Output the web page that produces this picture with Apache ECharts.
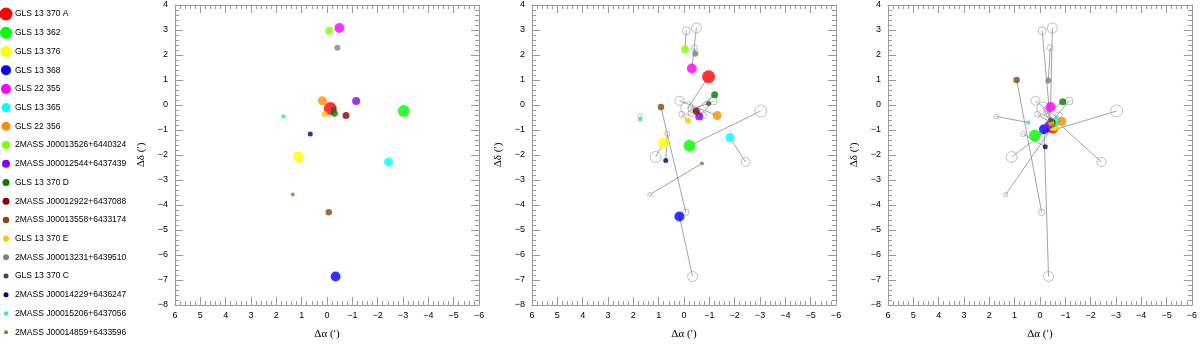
<!DOCTYPE html>
<html>
<head>
<meta charset="utf-8">
<title>Offsets</title>
<script src="https://cdn.jsdelivr.net/npm/echarts@6/dist/echarts.min.js"></script>
<style>
  html, body { margin: 0; padding: 0; background: #fff; }
  #chart { width: 1200px; height: 345px; }
</style>
</head>
<body>
<div id="chart"></div>
<script>
// source names, in legend order
var names = [
    'GLS 13 370 A', 'GLS 13 362', 'GLS 13 376', 'GLS 13 368', 'GLS 22 355',
    'GLS 13 365', 'GLS 22 356', '2MASS J00013526+6440324', '2MASS J00012544+6437439',
    'GLS 13 370 D', '2MASS J00012922+6437088', '2MASS J00013558+6433174', 'GLS 13 370 E',
    '2MASS J00013231+6439510', 'GLS 13 370 C', '2MASS J00014229+6436247',
    '2MASS J00015206+6437056', '2MASS J00014859+6433596'
];

// offsets (arcmin) - panel 1 (original positions)
var dA1 = [-0.13, -3.03, 1.12, -0.34, -0.49, -2.43, 0.18, -0.09, -1.15, -0.29, -0.75, -0.07, 0.09, -0.41, -0.26, 0.66, 1.72, 1.35];
var dD1 = [-0.14, -0.24, -2.08, -6.86, 3.08, -2.28, 0.17, 2.97, 0.16, -0.33, -0.42, -4.29, -0.37, 2.29, -0.17, -1.16, -0.46, -3.58];

// panel 2
var dA2 = [-0.97, -0.22, 0.80, 0.18, -0.31, -1.81, -1.31, -0.04, -0.60, -1.21, -0.49, 0.91, -0.16, -0.45, -0.97, 0.72, 1.73, -0.71];
var dD2 = [1.13, -1.63, -1.51, -4.46, 1.46, -1.30, -0.42, 2.22, -0.46, 0.41, -0.25, -0.08, -0.63, 2.05, 0.06, -2.22, -0.58, -2.34];

// panel 3
var dA3 = [-0.50, 0.20, -0.55, -0.16, -0.42, -0.65, -0.87, -0.42, -0.35, -0.90, -0.48, 0.92, -0.45, -0.33, -0.42, -0.21, 0.46, -0.54];
var dD3 = [-0.88, -1.22, -0.82, -0.97, -0.08, -0.65, -0.65, -0.78, -0.80, 0.13, -0.70, 1.00, -0.72, 0.98, -0.59, -1.67, -0.70, -0.82];

// styles
var colors = ['#ff0000', '#00ff00', '#ffff00', '#0000ff', '#ff00ff', '#00ffff', '#ff8c00', '#7fff00', '#7f00ff',
    '#007f00', '#8b0000', '#8b4513', '#ffc400', '#808080', '#2f4f4f', '#000080', '#40e0d0', '#6b8e23'];
var symbolSizes = [13, 12, 11, 10, 10, 9, 9, 8, 8, 7, 7, 6.5, 6, 6, 5, 5, 4.5, 4];

var chart = echarts.init(document.getElementById('chart'));

var gridLeft = [175, 532, 888];
var axisGray = '#9a9a9a';
var fmt = function (v) { return v < 0 ? '\u2212' + (-v) : String(v); };

var grids = [], xAxes = [], yAxes = [], series = [];

function tickCfg() {
    return {
        axisLine: { show: true, onZero: false, lineStyle: { color: axisGray, width: 1 } },
        axisTick: { show: true, inside: true, length: 8, lineStyle: { color: axisGray, width: 1 } },
        minorTick: { show: true, splitNumber: 5, length: 4, lineStyle: { color: axisGray, width: 1 } },
        splitLine: { show: false },
        minorSplitLine: { show: false }
    };
}

for (var g = 0; g < 3; g++) {
    grids.push({ left: gridLeft[g], top: 5, width: 304, height: 305 });

    // bottom + top x axes
    xAxes.push(Object.assign({
        type: 'value', gridIndex: g, position: 'bottom', inverse: true,
        min: -6, max: 6, interval: 1,
        name: 'Δα (′)', nameLocation: 'middle', nameGap: 24,
        nameTextStyle: { fontFamily: 'Liberation Serif', fontSize: 11, color: '#000' },
        axisLabel: { formatter: fmt, fontFamily: 'Liberation Sans', fontSize: 9, color: '#000', margin: 6 }
    }, tickCfg()));
    xAxes.push(Object.assign({
        type: 'value', gridIndex: g, position: 'top', inverse: true,
        min: -6, max: 6, interval: 1,
        axisLabel: { show: false }
    }, tickCfg()));

    // left + right y axes
    yAxes.push(Object.assign({
        type: 'value', gridIndex: g, position: 'left',
        min: -8, max: 4, interval: 1,
        name: 'Δδ (′)', nameLocation: 'middle', nameGap: 28, nameRotate: 90,
        nameTextStyle: { fontFamily: 'Liberation Serif', fontSize: 11, color: '#000' },
        axisLabel: { formatter: fmt, fontFamily: 'Liberation Sans', fontSize: 9, color: '#000', margin: 7 }
    }, tickCfg()));
    yAxes.push(Object.assign({
        type: 'value', gridIndex: g, position: 'right',
        min: -8, max: 4, interval: 1,
        axisLabel: { show: false }
    }, tickCfg()));
}

function points(xs, ys) {
    return xs.map(function (x, i) {
        return {
            name: names[i],
            value: [x, ys[i]],
            symbolSize: symbolSizes[i],
            itemStyle: { color: colors[i] }
        };
    });
}

// panel 1: original positions
series.push({
    type: 'scatter', xAxisIndex: 0, yAxisIndex: 0, z: 3,
    data: points(dA1, dD1)
});

// panels 2 and 3: shifted positions, hollow originals, joining lines
[[dA2, dD2], [dA3, dD3]].forEach(function (p, k) {
    var g = k + 1;
    series.push({
        type: 'lines', coordinateSystem: 'cartesian2d',
        xAxisIndex: g * 2, yAxisIndex: g * 2, z: 1,
        lineStyle: { color: '#8c8c8c', width: 0.8, opacity: 1 },
        data: p[0].map(function (x, i) {
            return { coords: [[x, p[1][i]], [dA1[i], dD1[i]]] };
        })
    });
    series.push({
        type: 'scatter', xAxisIndex: g * 2, yAxisIndex: g * 2, z: 2,
        data: dA1.map(function (x, i) {
            return {
                value: [x, dD1[i]],
                symbolSize: symbolSizes[i],
                itemStyle: { color: 'rgba(255,255,255,0)', borderColor: '#9a9a9a', borderWidth: 0.8 }
            };
        })
    });
    series.push({
        type: 'scatter', xAxisIndex: g * 2, yAxisIndex: g * 2, z: 3,
        data: points(p[0], p[1])
    });
});

// legend on the left
var legendItems = [];
names.forEach(function (n, i) {
    var y = 14 + i * 18.72;
    legendItems.push({
        type: 'circle',
        shape: { cx: 6, cy: y, r: symbolSizes[i] / 2 },
        style: { fill: colors[i] }
    });
    legendItems.push({
        type: 'text',
        x: 15, y: y,
        style: {
            text: n, fill: '#000', fontFamily: 'Liberation Sans', fontSize: 8.5,
            verticalAlign: 'middle', align: 'left'
        }
    });
});

var option = {
    animation: false,
    backgroundColor: '#fff',
    grid: grids,
    xAxis: xAxes,
    yAxis: yAxes,
    series: series,
    graphic: legendItems
};

chart.setOption(option);
</script>
</body>
</html>
